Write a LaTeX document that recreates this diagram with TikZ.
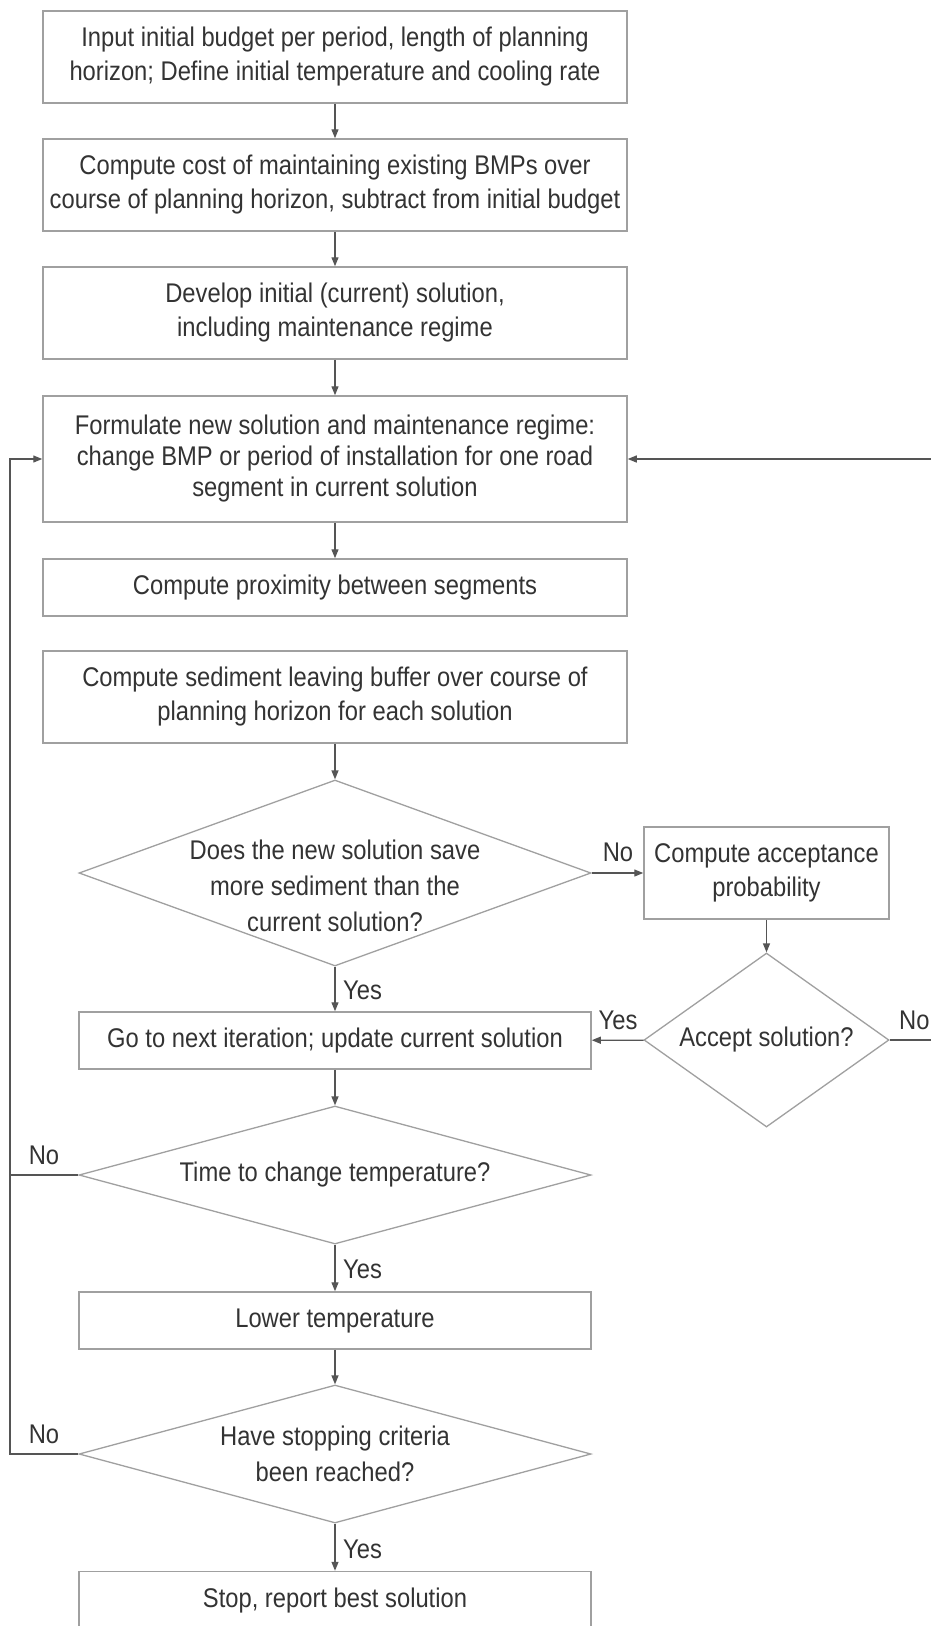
\documentclass[tikz,border=0pt]{standalone}
\usepackage{fontspec}
\setmainfont{Liberation Sans}[FakeStretch=0.88]
\usetikzlibrary{arrows.meta,shapes.geometric}
\definecolor{boxgray}{HTML}{A0A0A0}
\definecolor{linegray}{HTML}{555555}
\definecolor{txtgray}{HTML}{333333}
\begin{document}
\begin{tikzpicture}[x=1pt,y=-1pt,
  every node/.style={text=txtgray, font=\fontsize{27}{34}\selectfont, align=center, inner sep=0pt},
  stepbox/.style={draw=boxgray, line width=1.5pt, rectangle, minimum width=584pt},
  dia/.style={draw=boxgray, line width=1.3pt, diamond, inner sep=0pt},
  conn/.style={draw=linegray, line width=1.3pt, -{Triangle[length=9pt,width=7pt]}},
  loopline/.style={draw=linegray, line width=1.3pt},
  tight/.style={font=\fontsize{27}{31}\selectfont},
  loose/.style={font=\fontsize{27}{36}\selectfont}
]
\useasboundingbox (0,0) rectangle (930,1626);
\fill[white] (0,0) rectangle (930,1626);

\node[stepbox, minimum height=92pt] (b1) at (335,57) {Input initial budget per period, length of planning\\horizon; Define initial temperature and cooling rate};
\node[stepbox, minimum height=92pt] (b2) at (335,185) {Compute cost of maintaining existing BMPs over\\course of planning horizon, subtract from initial budget};
\node[stepbox, minimum height=92pt] (b3) at (335,313) {Develop initial (current) solution,\\including maintenance regime};
\node[stepbox, tight, minimum height=126pt] (b4) at (335,459) {Formulate new solution and maintenance regime:\\change BMP or period of installation for one road\\segment in current solution};
\node[stepbox, minimum height=57pt] (b5) at (335,587.5) {Compute proximity between segments};
\node[stepbox, minimum height=92pt] (b6) at (335,697) {Compute sediment leaving buffer over course of\\planning horizon for each solution};

\node[dia, minimum width=512pt, minimum height=186pt] (d1) at (335,873) {};
\node[loose] (d1t) at (335,886) {Does the new solution save\\more sediment than the\\current solution?};
\node[stepbox, minimum width=245pt, minimum height=92pt] (acc) at (766.5,873) {Compute acceptance\\probability};
\node[dia, minimum width=245pt, minimum height=174pt] (d2) at (766.5,1040) {};
\node (d2t) at (766.5,1040) {Accept solution?};
\node[stepbox, minimum width=512pt, minimum height=57pt] (go) at (335,1040.5) {Go to next iteration; update current solution};
\node[dia, minimum width=512pt, minimum height=138pt] (d3) at (335,1175) {};
\node (d3t) at (335,1175) {Time to change temperature?};
\node[stepbox, minimum width=512pt, minimum height=57pt] (low) at (335,1320.5) {Lower temperature};
\node[dia, minimum width=512pt, minimum height=138pt] (d4) at (335,1454) {};
\node[loose] (d4t) at (335,1454) {Have stopping criteria\\been reached?};
\node[stepbox, minimum width=512pt, minimum height=57pt] (stop) at (335,1600) {Stop, report best solution};

\coordinate (Lx) at (10,1175);
\coordinate (Rx) at (945,1040);

\draw[conn] (b1) -- (b2);
\draw[conn] (b2) -- (b3);
\draw[conn] (b3) -- (b4);
\draw[conn] (b4) -- (b5);
\draw[conn] (b6) -- (d1);
\draw[conn] (d1) -- (go);
\draw[conn] (d1) -- (acc);
\draw[conn] (acc) -- (d2);
\draw[conn] (d2) -- (go);
\draw[conn] (d2.east) -- (Rx) |- (b4.east);
\draw[conn] (go) -- (d3);
\draw[conn] (d3) -- (low);
\draw[conn] (d3.west) -| (Lx) |- (b4.west);
\draw[conn] (low) -- (d4);
\draw[loopline] (d4.west) -| (Lx);
\draw[conn] (d4) -- (stop);

\node[anchor=west] (yes1) at (343,990) {Yes};
\node (no1) at (618,852) {No};
\node (yes2) at (618,1020) {Yes};
\node[anchor=west] (no2) at (899,1020) {No};
\node (no3) at (44,1155) {No};
\node[anchor=west] (yes3) at (343,1269) {Yes};
\node (no4) at (44,1434) {No};
\node[anchor=west] (yes4) at (343,1549) {Yes};
\end{tikzpicture}
\end{document}
